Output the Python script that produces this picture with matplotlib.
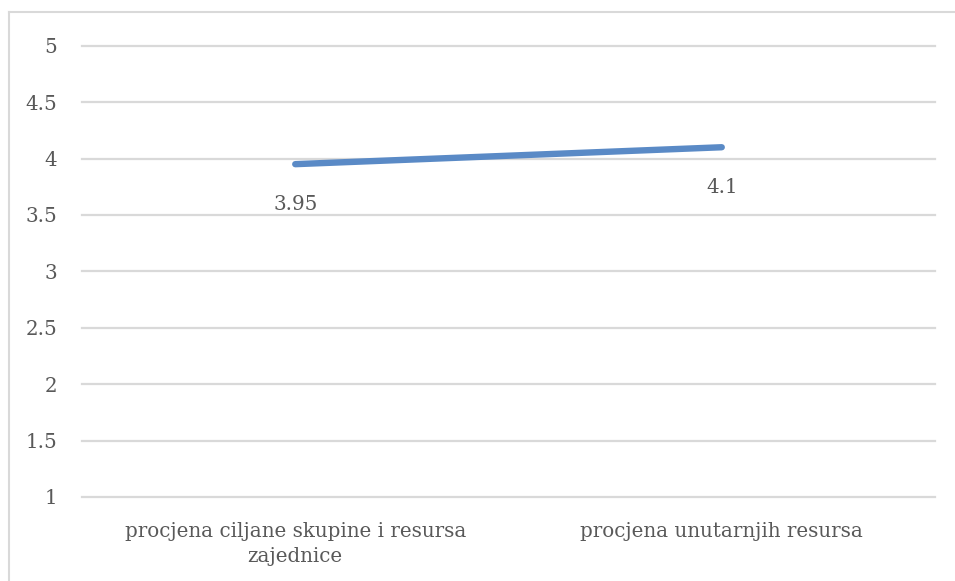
import matplotlib
matplotlib.use("Agg")
import matplotlib.pyplot as plt
from matplotlib.lines import Line2D

# average scores per assessment area
categories = ["procjena ciljane skupine i resursa\nzajednice", "procjena unutarnjih resursa"]
scores = [3.95, 4.1]
yticks = [1, 1.5, 2, 2.5, 3, 3.5, 4, 4.5, 5]

text_grey = "#595959"
grid_grey = "#d9d9d9"
blue = "#5a8ac6"

plt.rcParams["font.family"] = ["DejaVu Serif"]

fig = plt.figure(figsize=(9.55, 5.81), dpi=100)
# chart frame: only the top and left edges fall inside the image
left_x, top_y = 8.5 / 955, 1 - 11.5 / 581
fig.lines.append(Line2D([left_x, 1], [top_y, top_y], transform=fig.transFigure,
                        color=grid_grey, linewidth=1.5))
fig.lines.append(Line2D([left_x, left_x], [0, top_y], transform=fig.transFigure,
                        color=grid_grey, linewidth=1.5))

ax = fig.add_axes([82 / 955, 1 - 497 / 581, 853 / 955, 451.3 / 581])

x = list(range(len(categories)))
ax.plot(x, scores, color=blue, linewidth=4.6, solid_capstyle="round", zorder=3)
for xi, v in zip(x, scores):
    ax.annotate(f"{v:g}", (xi, v), xytext=(0, -29), textcoords="offset points",
                ha="center", va="center", fontsize=14.3, color=text_grey)

ax.set_xlim(-0.5, len(categories) - 0.5)
ax.set_ylim(1, 5)
ax.set_yticks(yticks)
ax.set_yticklabels([f"{t:g}" for t in yticks])
ax.set_xticks(x)
ax.set_xticklabels(categories, linespacing=1.42)
ax.yaxis.grid(True, color=grid_grey, linewidth=1.6)
for gl in ax.get_ygridlines():
    gl.set_clip_on(False)
ax.set_axisbelow(True)
for s in ax.spines.values():
    s.set_visible(False)
ax.tick_params(axis="y", length=0, pad=18, labelsize=14.3, labelcolor=text_grey)
ax.tick_params(axis="x", length=0, pad=18, labelsize=14.3, labelcolor=text_grey)

fig.savefig("out.png", dpi=100)
